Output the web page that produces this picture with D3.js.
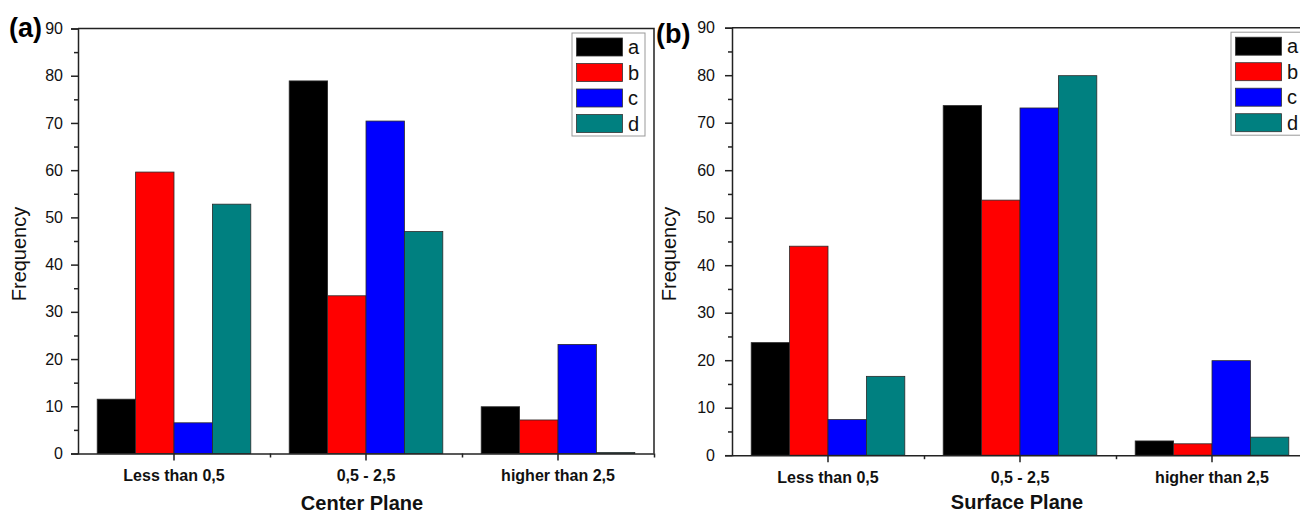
<!DOCTYPE html>
<html>
<head>
<meta charset="utf-8">
<script src="https://cdn.jsdelivr.net/npm/d3@7"></script>
<style>
  body { margin: 0; background: #fff; }
  svg { font-family: "Liberation Sans", Arial, sans-serif; }
</style>
</head>
<body>
<div id="chart"></div>
<script>
// Data
var categories = ["Less than 0,5", "0,5 - 2,5", "higher than 2,5"];
var seriesNames = ["a", "b", "c", "d"];
var seriesColors = ["#000000", "#ff0000", "#0000ff", "#008080"];
var yTicks = [0, 10, 20, 30, 40, 50, 60, 70, 80, 90];

// one row per series (a, b, c, d), one value per category
var centerPlane = [
  [11.5, 78.9, 9.9],
  [59.6, 33.4, 7.1],
  [6.5, 70.4, 23.1],
  [52.8, 47.0, 0.2]
];
var surfacePlane = [
  [23.7, 73.6, 3.0],
  [44.0, 53.7, 2.4],
  [7.5, 73.1, 19.9],
  [16.6, 79.9, 3.8]
];

var svg = d3.select("#chart")
  .append("svg")
  .attr("width", 1300)
  .attr("height", 515);

// Panel setup
var panels = [
  { tag: "(a)", tagX: 9, tagY: 37, left: 78, top: 28.5, width: 576, height: 425,
    data: centerPlane, title: "Center Plane", titleX: 362, titleY: 510,
    ylabX: 26, labPad: 8, legendX: 494 },
  { tag: "(b)", tagX: 656, tagY: 43, left: 732, top: 27.7, width: 576, height: 427.5,
    data: surfacePlane, title: "Surface Plane", titleX: 1017, titleY: 509,
    ylabX: 676, labPad: 10, legendX: 499 }
];

panels.forEach(function (p) {
  var g = svg.append("g")
    .attr("transform", `translate(${p.left}, ${p.top})`);

  var x0 = d3.scaleBand()
    .domain(categories)
    .range([0, p.width])
    .paddingInner(0.2)
    .paddingOuter(0.1);

  var x1 = d3.scaleBand()
    .domain(seriesNames)
    .range([0, x0.bandwidth()]);

  var y = d3.scaleLinear()
    .domain([0, 90])
    .range([p.height, 0]);

  // bars
  categories.forEach(function (cat, ci) {
    seriesNames.forEach(function (s, si) {
      var v = p.data[si][ci];
      g.append("rect")
        .attr("x", x0(cat) + x1(s))
        .attr("y", y(v))
        .attr("width", x1.bandwidth())
        .attr("height", y(0) - y(v))
        .attr("fill", seriesColors[si])
        .attr("stroke", "#2a2a2a")
        .attr("stroke-width", 0.8);
    });
  });

  // frame: top and right
  g.append("path")
    .attr("d", `M0,0H${p.width}V${p.height}`)
    .attr("fill", "none")
    .attr("stroke", "#222")
    .attr("stroke-width", 1.5);

  // y axis, major and minor ticks
  var yAxis = g.append("g")
    .call(d3.axisLeft(y).tickValues(yTicks).tickSize(7).tickPadding(p.labPad));
  yAxis.selectAll("text")
    .attr("font-size", "16px")
    .attr("fill", "#111");
  g.append("g")
    .call(d3.axisLeft(y).tickValues(d3.range(5, 90, 10)).tickSize(4).tickFormat(""))
    .select(".domain").remove();

  // x axis
  var xAxis = g.append("g")
    .attr("transform", `translate(0,${p.height})`)
    .call(d3.axisBottom(x0).tickSize(7).tickPadding(9).tickSizeOuter(0));
  xAxis.selectAll("text")
    .attr("font-size", "16px")
    .attr("font-weight", "bold")
    .attr("fill", "#111");

  // minor x ticks between categories
  var xMinor = d3.scaleLinear().domain([0, 3]).range([0, p.width]);
  g.append("g")
    .attr("transform", `translate(0,${p.height})`)
    .call(d3.axisBottom(xMinor).tickValues([1, 2, 3]).tickSize(4).tickFormat(""))
    .select(".domain").remove();

  svg.selectAll(".domain, .tick line")
    .attr("stroke", "#222")
    .attr("stroke-width", 1.5);

  // axis titles
  svg.append("text")
    .attr("transform", `translate(${p.ylabX},254)rotate(-90)`)
    .attr("text-anchor", "middle")
    .attr("font-size", "20px")
    .attr("fill", "#111")
    .text("Frequency");

  svg.append("text")
    .attr("x", p.titleX)
    .attr("y", p.titleY)
    .attr("text-anchor", "middle")
    .attr("font-size", "20px")
    .attr("font-weight", "bold")
    .attr("fill", "#111")
    .text(p.title);

  svg.append("text")
    .attr("x", p.tagX)
    .attr("y", p.tagY)
    .attr("font-size", "27px")
    .attr("font-weight", "bold")
    .attr("fill", "#000")
    .text(p.tag);

  // legend
  var legend = g.append("g")
    .attr("transform", `translate(${p.legendX}, 4.5)`);
  legend.append("rect")
    .attr("width", 73)
    .attr("height", 103)
    .attr("fill", "#fff")
    .attr("stroke", "#999")
    .attr("stroke-width", 1);
  seriesNames.forEach(function (s, i) {
    legend.append("rect")
      .attr("x", 4.5)
      .attr("y", 5 + i * 25.5)
      .attr("width", 46)
      .attr("height", 18)
      .attr("fill", seriesColors[i])
      .attr("stroke", "#333")
      .attr("stroke-width", 0.8);
    legend.append("text")
      .attr("x", 56)
      .attr("y", 21 + i * 25.5)
      .attr("font-size", "20px")
      .attr("fill", "#111")
      .text(s);
  });
});
</script>
</body>
</html>
